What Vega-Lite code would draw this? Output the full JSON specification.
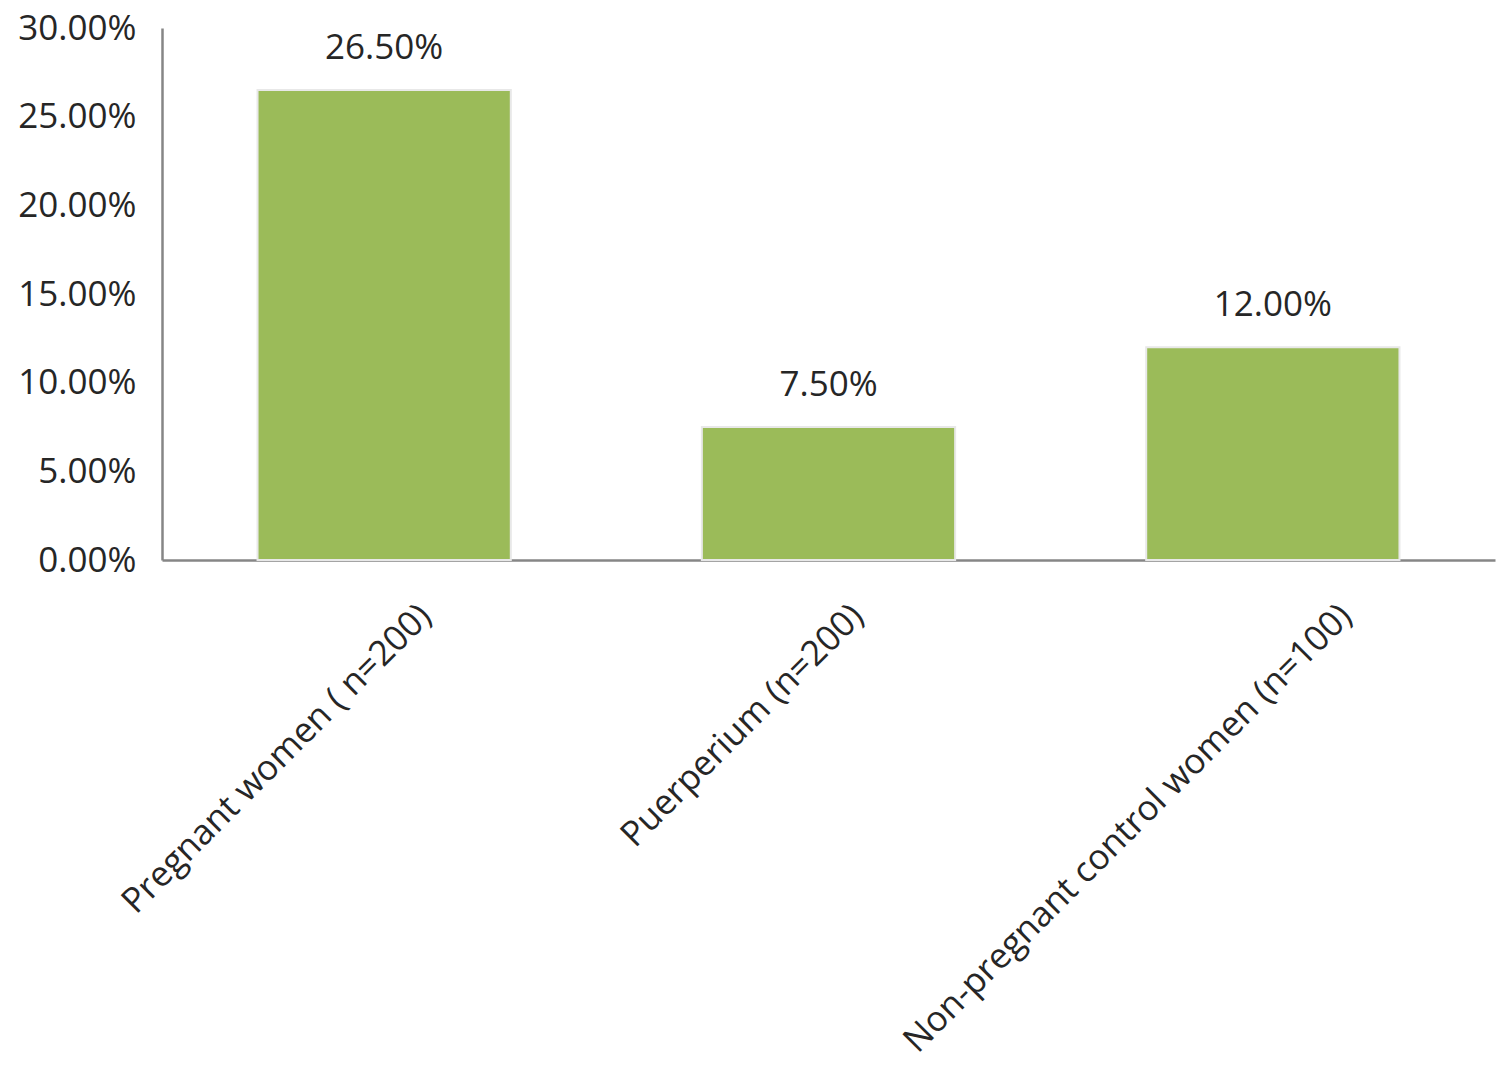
{
  "$schema": "https://vega.github.io/schema/vega-lite/v6.json",
  "width": 1333,
  "height": 532,
  "autosize": {"type": "none"},
  "padding": {"left": 162, "top": 28, "right": 5, "bottom": 518},
  "background": "white",
  "config": {
    "view": {"stroke": null},
    "font": "Open Sans"
  },
  "data": {
    "values": [
      {"group": "Pregnant women ( n=200)", "rate": 0.265},
      {"group": "Puerperium (n=200)", "rate": 0.075},
      {"group": "Non-pregnant control women (n=100)", "rate": 0.12}
    ]
  },
  "encoding": {
    "x": {
      "field": "group",
      "type": "nominal",
      "sort": null,
      "scale": {"paddingInner": 0.43, "paddingOuter": 0.215},
      "axis": {
        "title": null,
        "labelAngle": -45,
        "labelAlign": "right",
        "labelBaseline": "middle",
        "labelFontSize": 35,
        "labelColor": "#262626",
        "labelLimit": 0,
        "labelOffset": {
          "condition": [
            {"test": "datum.value == 'Puerperium (n=200)'", "value": 29},
            {"test": "datum.value == 'Non-pregnant control women (n=100)'", "value": 73}
          ],
          "value": 41
        },
        "labelPadding": 50,
        "ticks": false,
        "domainColor": "#868686",
        "domainWidth": 2.5
      }
    },
    "y": {
      "field": "rate",
      "type": "quantitative",
      "scale": {"domain": [0, 0.3]},
      "axis": {
        "title": null,
        "format": ".2%",
        "values": [0, 0.05, 0.1, 0.15, 0.2, 0.25, 0.3],
        "grid": false,
        "ticks": false,
        "labelFontSize": 35,
        "labelColor": "#262626",
        "labelPadding": 26,
        "domainColor": "#868686",
        "domainWidth": 2.5
      }
    }
  },
  "layer": [
    {"mark": {"type": "bar", "color": "#9BBB59", "stroke": "#e8e8e8", "strokeWidth": 2}},
    {
      "mark": {"type": "text", "baseline": "bottom", "dy": -24, "fontSize": 35, "color": "#262626"},
      "encoding": {"text": {"field": "rate", "type": "quantitative", "format": ".2%"}}
    }
  ]
}
